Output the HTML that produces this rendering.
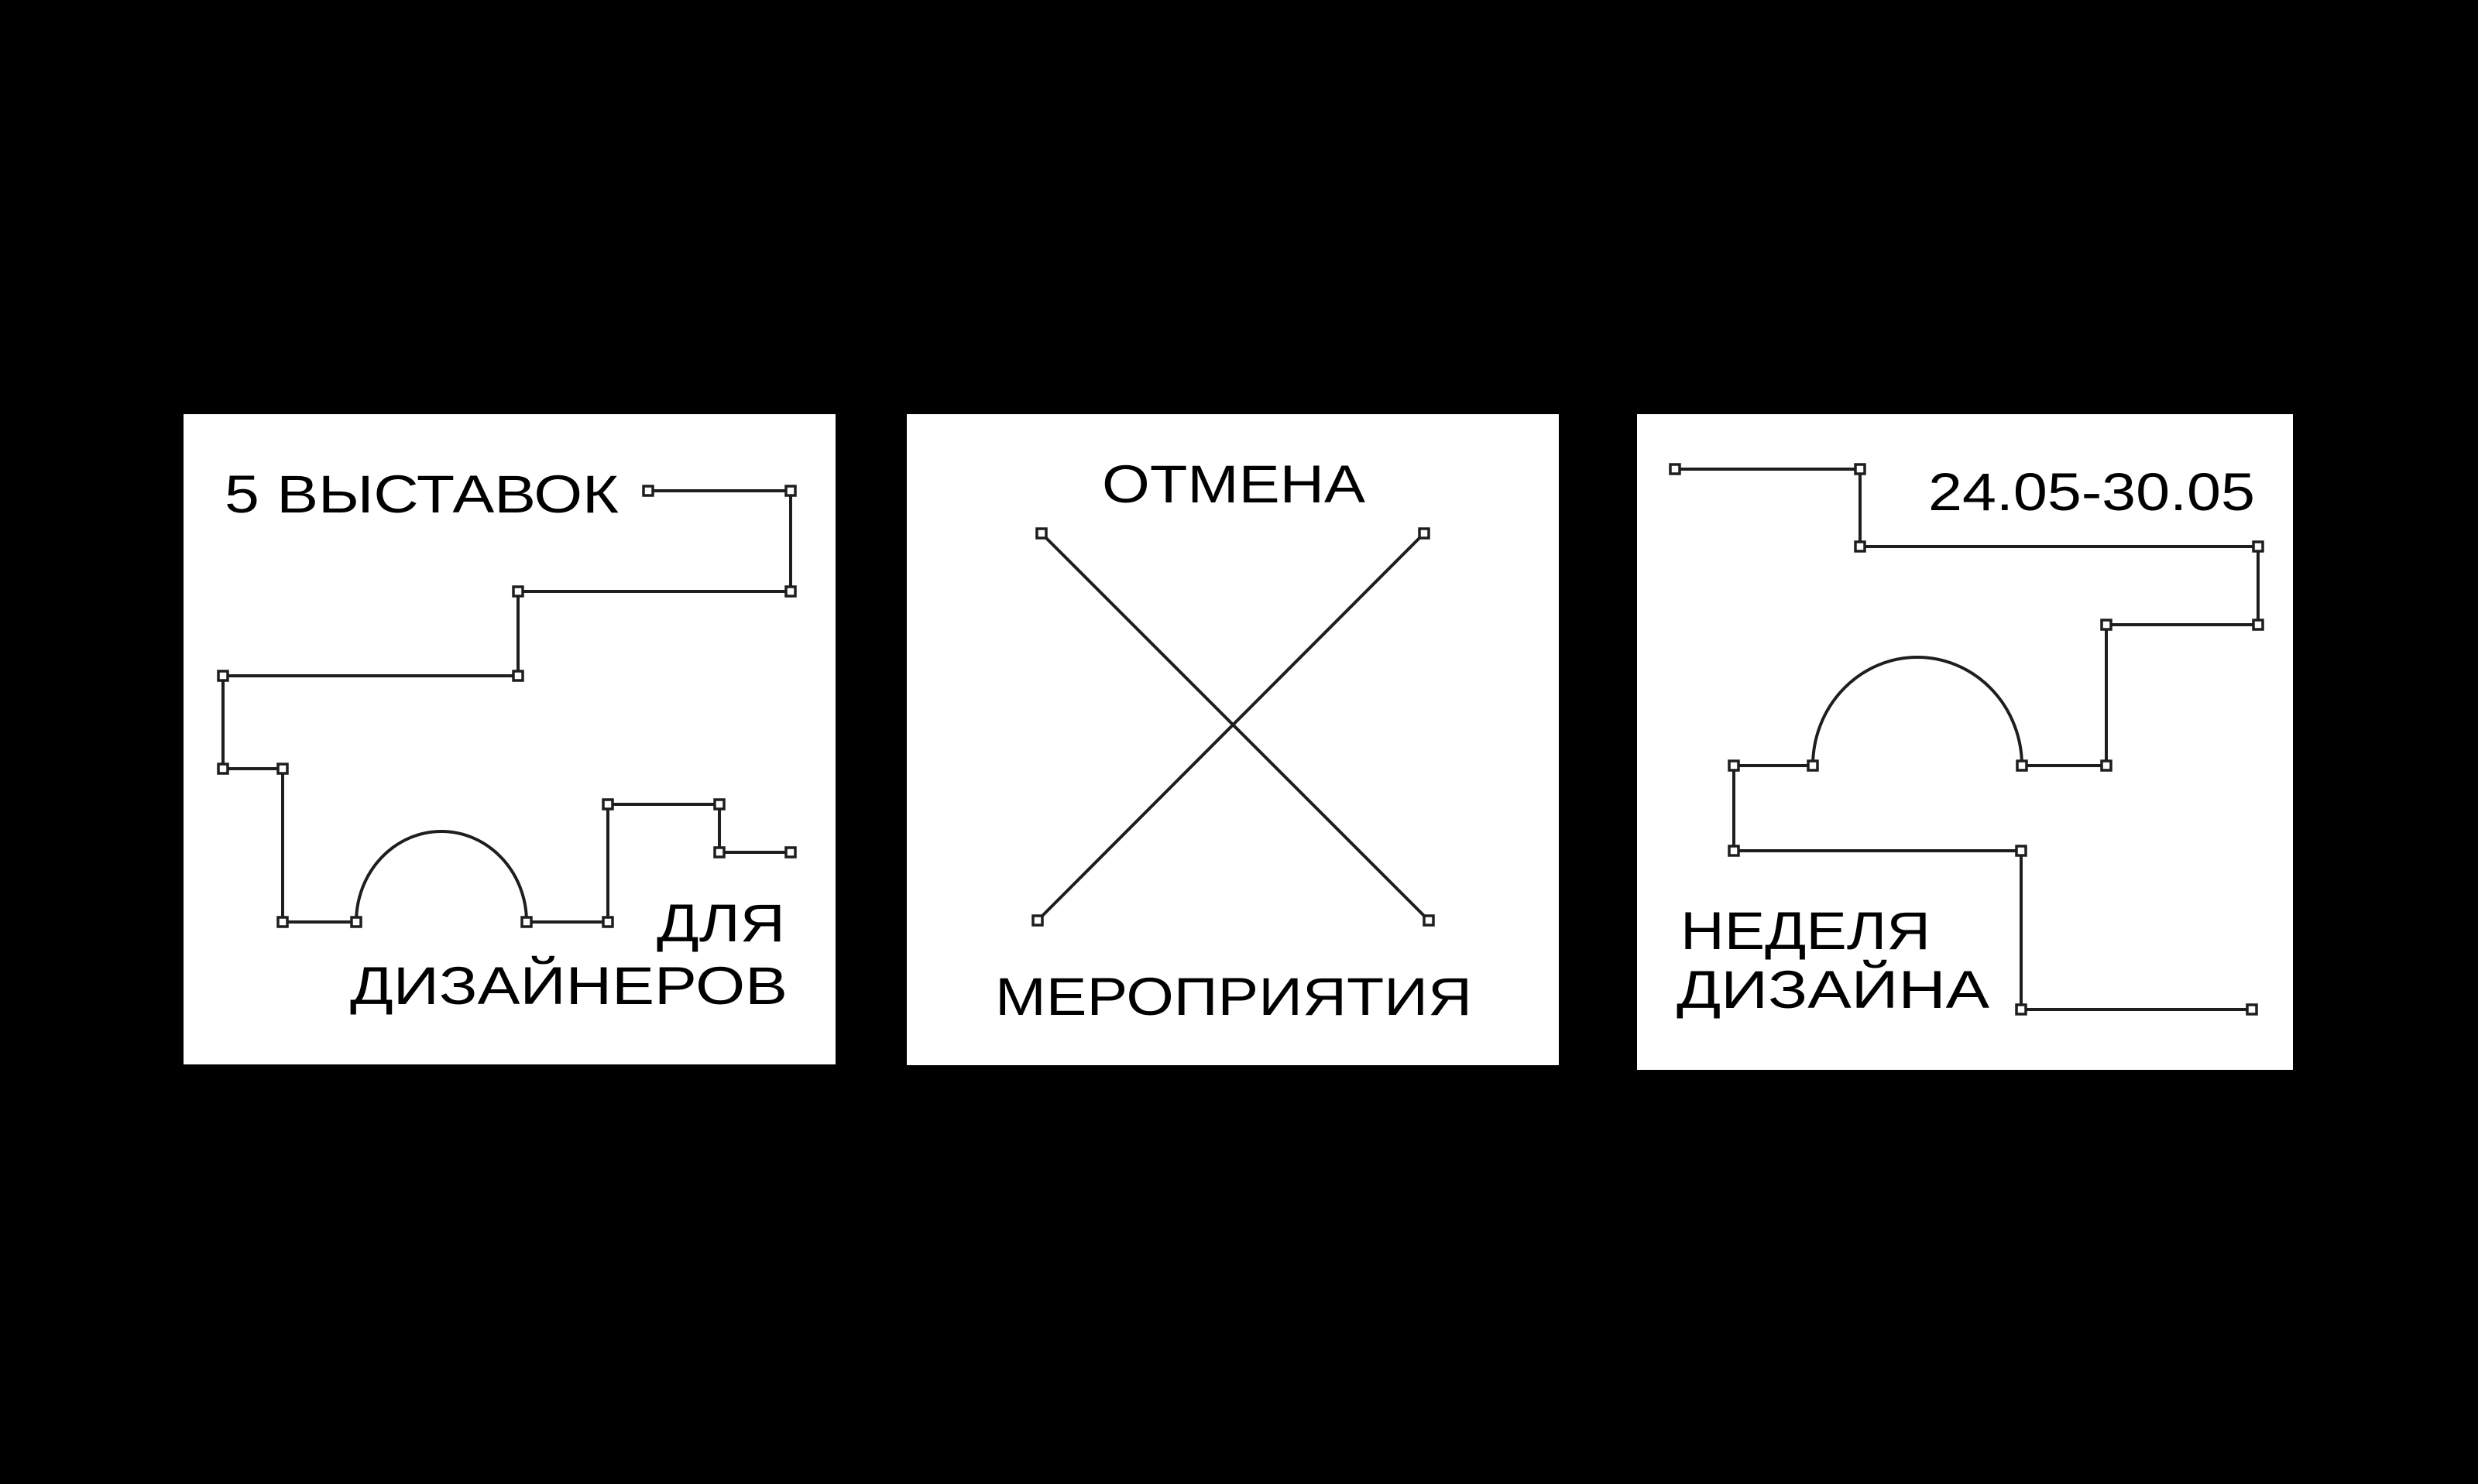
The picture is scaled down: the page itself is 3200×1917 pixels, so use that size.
<!DOCTYPE html>
<html><head><meta charset="utf-8"><style>
html,body{margin:0;padding:0;background:#000;}
svg{display:block;}
text{font-family:"Liberation Sans",sans-serif;font-size:69px;fill:#000;}
</style></head><body>
<svg width="3200" height="1917" viewBox="0 0 3200 1917" xmlns="http://www.w3.org/2000/svg">
<rect width="3200" height="1917" fill="#000"/>
<rect x="237" y="535" width="842" height="840" fill="#fff"/>
<rect x="1171" y="535" width="842" height="841" fill="#fff"/>
<rect x="2114" y="535" width="847" height="847" fill="#fff"/>
<g fill="none" stroke="#1e1e1e" stroke-width="4">
<path d="M837 634H1021V764H669V873H288V993H365V1191H460A110 117 0 0 1 680 1191H785V1039H929V1101H1021"/>
<path d="M1345 689L1845 1189M1839 689L1340 1189"/>
<path d="M2163 606H2402V706H2916V807H2720V989H2611A135 140 0 0 0 2341 989H2239V1099H2610V1304H2908"/>
</g>
<g fill="#fff" stroke="#1e1e1e" stroke-width="3.5">
<rect x="831" y="628" width="12" height="12"/><rect x="1015" y="628" width="12" height="12"/>
<rect x="1015" y="758" width="12" height="12"/><rect x="663" y="758" width="12" height="12"/>
<rect x="663" y="867" width="12" height="12"/><rect x="282" y="867" width="12" height="12"/>
<rect x="282" y="987" width="12" height="12"/><rect x="359" y="987" width="12" height="12"/>
<rect x="359" y="1185" width="12" height="12"/><rect x="454" y="1185" width="12" height="12"/>
<rect x="674" y="1185" width="12" height="12"/><rect x="779" y="1185" width="12" height="12"/>
<rect x="779" y="1033" width="12" height="12"/><rect x="923" y="1033" width="12" height="12"/>
<rect x="923" y="1095" width="12" height="12"/><rect x="1015" y="1095" width="12" height="12"/>
<rect x="1339" y="683" width="12" height="12"/><rect x="1833" y="683" width="12" height="12"/>
<rect x="1334" y="1183" width="12" height="12"/><rect x="1839" y="1183" width="12" height="12"/>
<rect x="2157" y="600" width="12" height="12"/><rect x="2396" y="600" width="12" height="12"/>
<rect x="2396" y="700" width="12" height="12"/><rect x="2910" y="700" width="12" height="12"/>
<rect x="2910" y="801" width="12" height="12"/><rect x="2714" y="801" width="12" height="12"/>
<rect x="2714" y="983" width="12" height="12"/><rect x="2605" y="983" width="12" height="12"/>
<rect x="2335" y="983" width="12" height="12"/><rect x="2233" y="983" width="12" height="12"/>
<rect x="2233" y="1093" width="12" height="12"/><rect x="2604" y="1093" width="12" height="12"/>
<rect x="2604" y="1298" width="12" height="12"/><rect x="2902" y="1298" width="12" height="12"/>
</g>
<text x="290" y="662" textLength="509" lengthAdjust="spacingAndGlyphs">5 ВЫСТАВОК</text>
<text x="848" y="1216" textLength="166" lengthAdjust="spacingAndGlyphs">ДЛЯ</text>
<text x="452" y="1297" textLength="565" lengthAdjust="spacingAndGlyphs">ДИЗАЙНЕРОВ</text>
<text x="1423" y="649" textLength="340" lengthAdjust="spacingAndGlyphs">ОТМЕНА</text>
<text x="1285" y="1311" textLength="616" lengthAdjust="spacingAndGlyphs">МЕРОПРИЯТИЯ</text>
<text x="2490" y="659" textLength="422" lengthAdjust="spacingAndGlyphs">24.05-30.05</text>
<text x="2170" y="1226" textLength="323" lengthAdjust="spacingAndGlyphs">НЕДЕЛЯ</text>
<text x="2165" y="1302" textLength="404" lengthAdjust="spacingAndGlyphs">ДИЗАЙНА</text>
</svg>
</body></html>
